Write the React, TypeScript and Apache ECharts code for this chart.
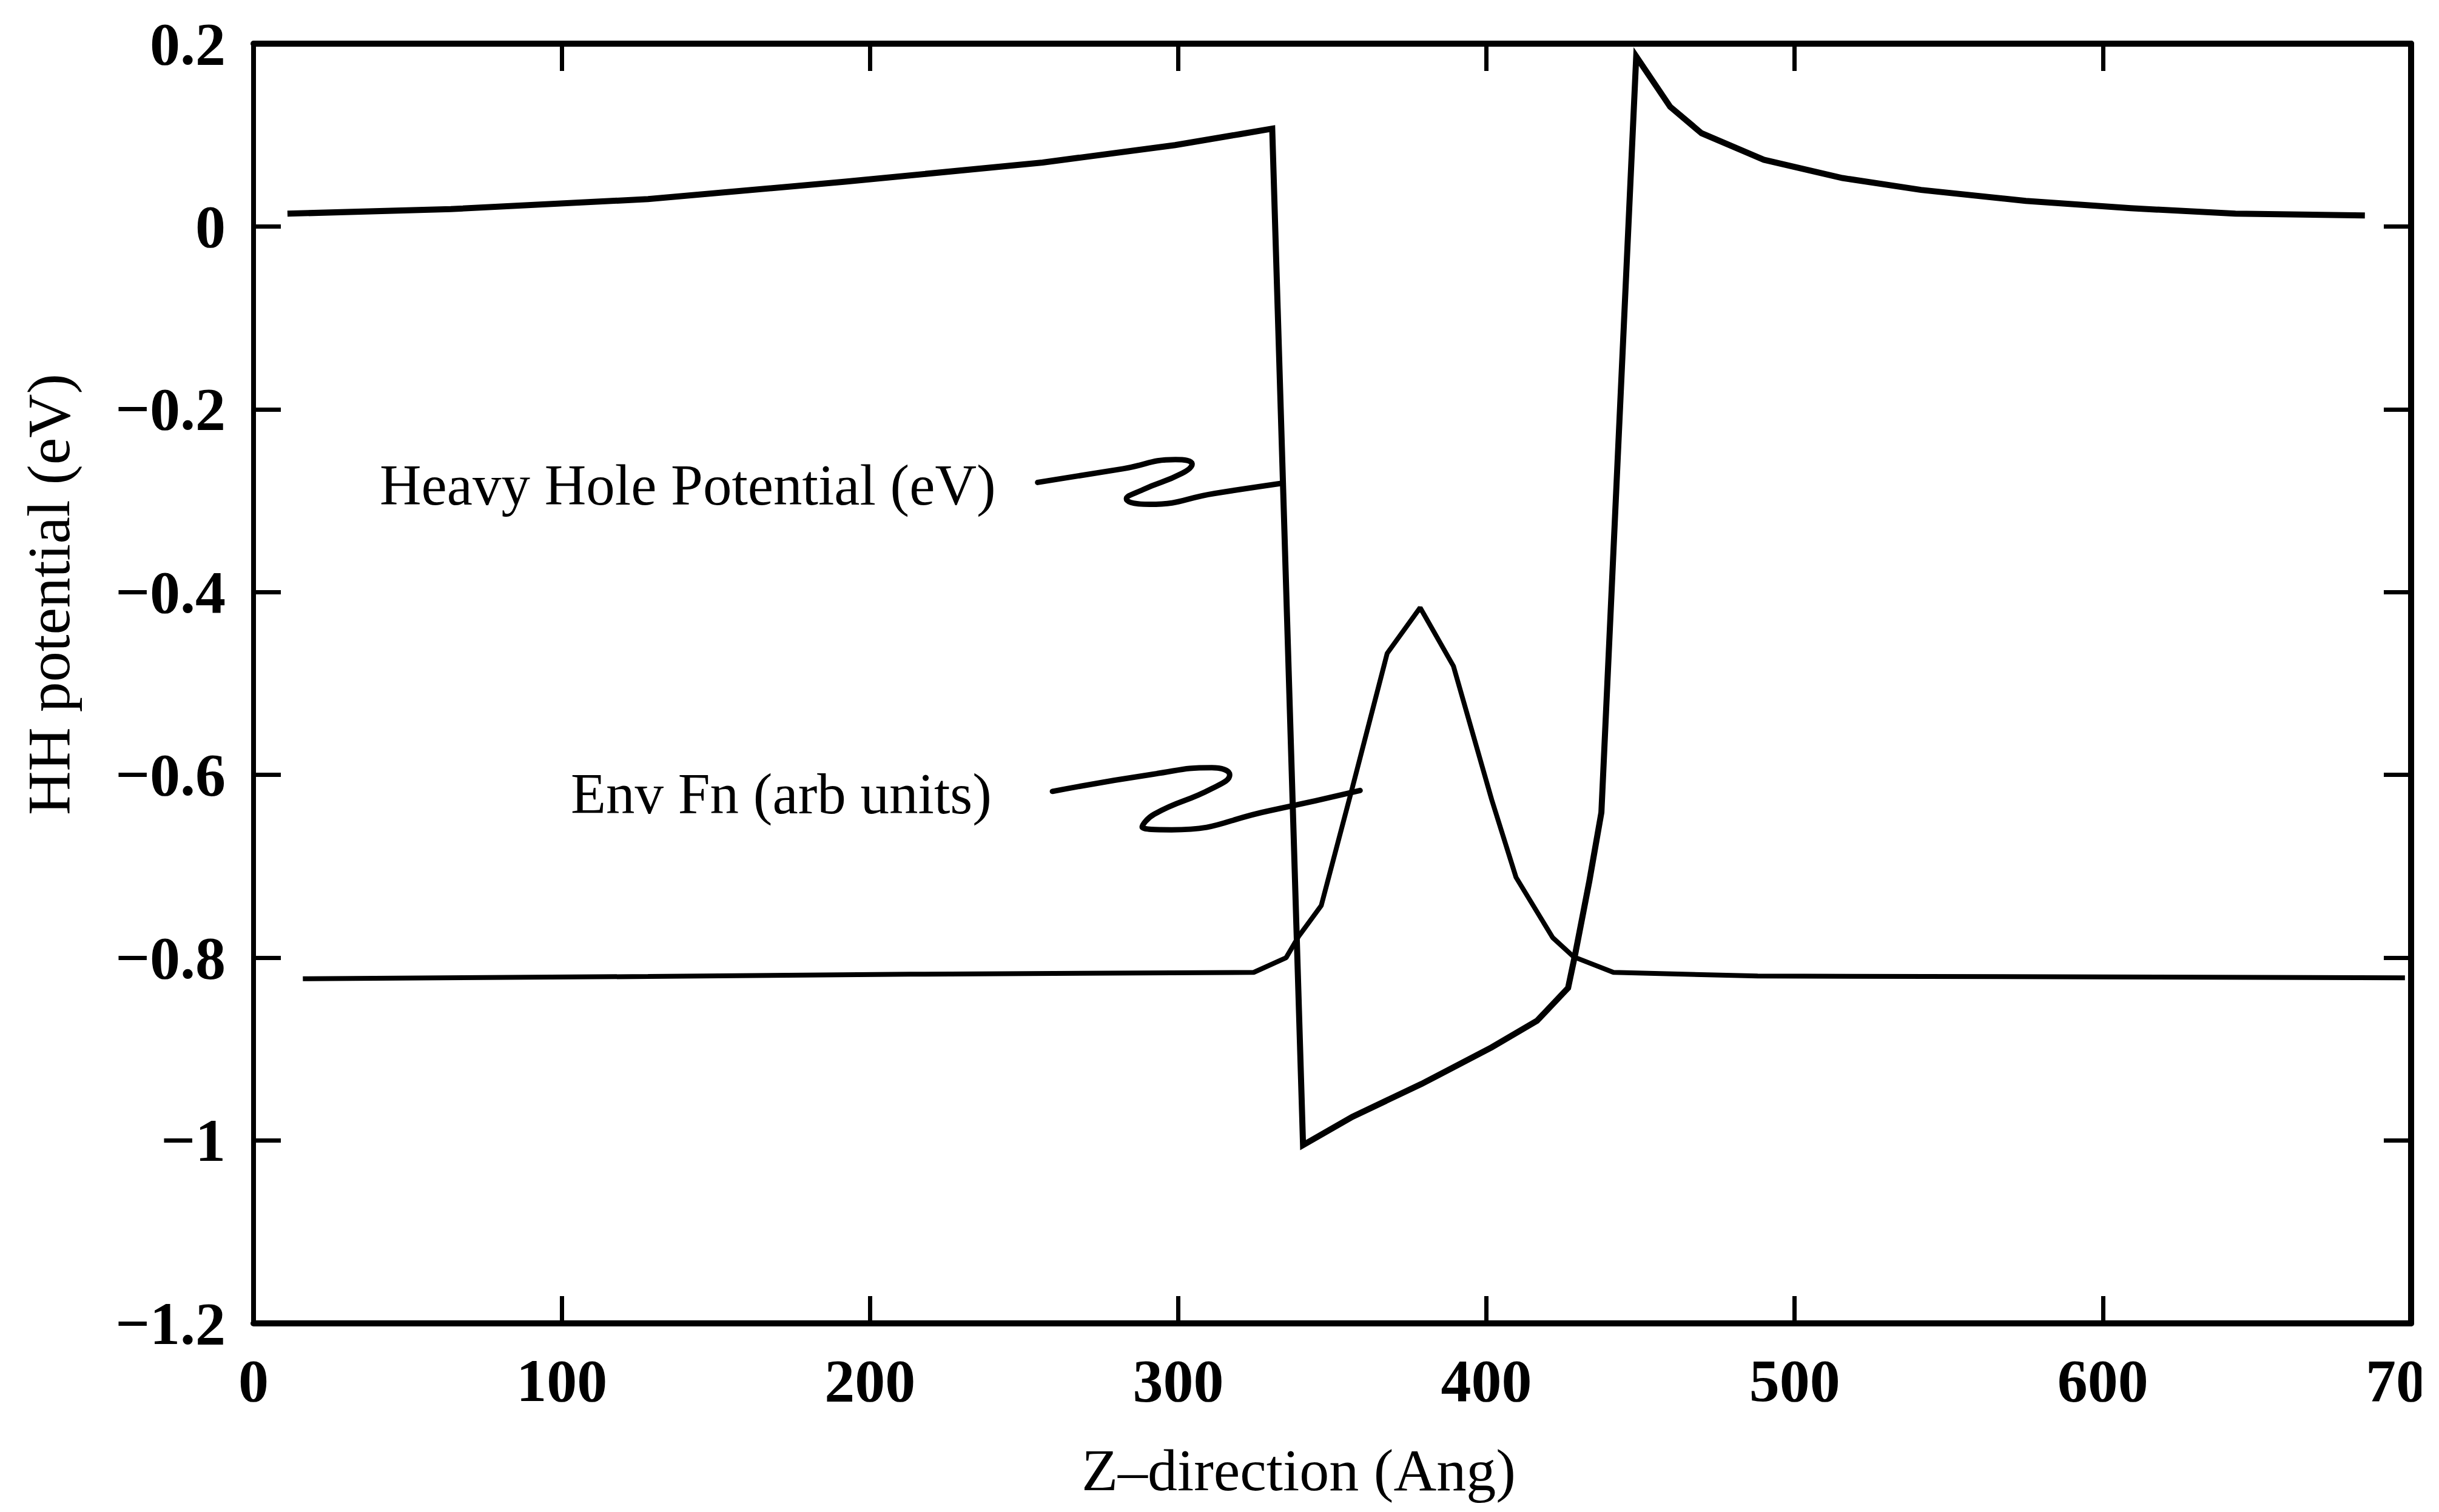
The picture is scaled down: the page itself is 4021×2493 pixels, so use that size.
import React, { useEffect, useRef } from "react";
import * as echarts from "echarts";

// Heavy hole potential (eV) vs Z (Ang)
const hhZ = [11, 64, 128, 192, 256, 299, 320, 330.5, 340.5, 356.5, 379, 401.7, 416.4, 426.5, 428.8, 433.4, 437.3, 448.6, 459.6, 469.8, 490, 515.5, 541, 575, 609, 643, 685];
const hhV = [0.014, 0.019, 0.030, 0.049, 0.070, 0.089, 0.101, 0.107, -1.005, -0.974, -0.938, -0.898, -0.869, -0.833, -0.796, -0.716, -0.641, 0.186, 0.131, 0.102, 0.073, 0.053, 0.040, 0.028, 0.020, 0.014, 0.012];

// Envelope function (arb units, offset)
const envZ = [16, 128, 213, 324.5, 335, 339, 346.4, 356.5, 367.8, 378.5, 389.3, 401.7, 409.6, 421.5, 428.3, 441.2, 488, 600, 698];
const envV = [-0.823, -0.8205, -0.818, -0.816, -0.800, -0.777, -0.743, -0.614, -0.467, -0.417, -0.481, -0.627, -0.712, -0.778, -0.799, -0.816, -0.820, -0.821, -0.822];

// Leader squiggles from the annotation labels to the curves
const hhLeaderZ = [254.4, 282.1, 299.1, 304.5, 301.3, 288.5, 283.2, 290.7, 311.9, 333.4];
const hhLeaderV = [-0.280, -0.265, -0.255, -0.260, -0.270, -0.288, -0.298, -0.304, -0.292, -0.281];
const envLeaderZ = [259.2, 292.2, 310.9, 316.7, 310.9, 292.2, 288.3, 297.8, 329.8, 359.0];
const envLeaderV = [-0.618, -0.599, -0.592, -0.600, -0.615, -0.643, -0.657, -0.660, -0.639, -0.617];

const xRange = [0, 700];
const xStep = 100;
const yRange = [-1.2, 0.2];
const yStep = 0.2;

const xTitle = "Z–direction (Ang)";
const yTitle = "HH potential (eV)";
const hhLabel = "Heavy Hole Potential (eV)";
const envLabel = "Env Fn (arb units)";

const pairs = (xs: number[], ys: number[]) => xs.map((x, i) => [x, ys[i]]);

const SERIF = '"Liberation Serif", "Times New Roman", serif';

export default function App() {
  const ref = useRef<HTMLDivElement>(null);
  useEffect(() => {
    if (!ref.current) return;
    document.body.style.margin = "0";
    const chart = echarts.init(ref.current, undefined, { renderer: "svg" });
    const axisLine = { show: true, onZero: false, lineStyle: { color: "#000", width: 10 } };
    const tick = { show: true, inside: true, length: 45, lineStyle: { color: "#000", width: 7 } };
    const fmtY = (v: number) => {
      const r = Math.round(v * 10) / 10;
      return r < 0 ? "\u2212" + String(Math.abs(r)) : String(r);
    };
    const labelFont = { fontFamily: SERIF, fontWeight: "bold" as const, fontSize: 100, color: "#000" };
    chart.setOption({
      animation: false,
      backgroundColor: "#fff",
      grid: { left: 418, top: 72, right: 17, bottom: 311, containLabel: false, outerBoundsMode: "none" },
      xAxis: [
        {
          type: "value", min: xRange[0], max: xRange[1], interval: xStep, position: "bottom",
          axisLine, axisTick: tick, splitLine: { show: false },
          axisLabel: { ...labelFont, margin: 44, formatter: (v: number) => String(Math.round(v)) },
        },
        {
          type: "value", min: xRange[0], max: xRange[1], interval: xStep, position: "top",
          axisLine, axisTick: tick, splitLine: { show: false }, axisLabel: { show: false },
        },
      ],
      yAxis: [
        {
          type: "value", min: yRange[0], max: yRange[1], interval: yStep, position: "left",
          axisLine: { ...axisLine, lineStyle: { color: "#000", width: 8 } }, axisTick: tick, splitLine: { show: false },
          axisLabel: { ...labelFont, margin: 46, formatter: fmtY },
        },
        {
          type: "value", min: yRange[0], max: yRange[1], interval: yStep, position: "right",
          axisLine, axisTick: tick, splitLine: { show: false }, axisLabel: { show: false },
        },
      ],
      series: [
        {
          type: "line", name: "HH", data: pairs(hhZ, hhV), showSymbol: false, symbol: "none",
          lineStyle: { color: "#000", width: 10, join: "miter" }, z: 3,
        },
        {
          type: "line", name: "Env", data: pairs(envZ, envV), showSymbol: false, symbol: "none",
          lineStyle: { color: "#000", width: 8 }, z: 3,
        },
        {
          type: "line", name: "hhLeader", data: pairs(hhLeaderZ, hhLeaderV), showSymbol: false, symbol: "none",
          smooth: 0.5, lineStyle: { color: "#000", width: 9, cap: "round" }, z: 3,
        },
        {
          type: "line", name: "envLeader", data: pairs(envLeaderZ, envLeaderV), showSymbol: false, symbol: "none",
          smooth: 0.5, lineStyle: { color: "#000", width: 9, cap: "round" }, z: 3,
        },
      ],
      graphic: [
        {
          type: "text", x: 626, y: 800,
          style: { text: hhLabel, fontFamily: SERIF, fontSize: 95, fill: "#000", align: "left", verticalAlign: "middle" },
        },
        {
          type: "text", x: 941, y: 1309,
          style: { text: envLabel, fontFamily: SERIF, fontSize: 95, fill: "#000", align: "left", verticalAlign: "middle" },
        },
        {
          type: "text", x: 80, y: 980, rotation: Math.PI / 2,
          style: { text: yTitle, fontFamily: SERIF, fontSize: 100, fill: "#000", align: "center", verticalAlign: "middle" },
        },
        {
          type: "text", x: 2141, y: 2424,
          style: { text: xTitle, fontFamily: SERIF, fontSize: 98, fill: "#000", align: "center", verticalAlign: "middle" },
        },
      ],
    });
    return () => chart.dispose();
  }, []);
  return (
    <div
      ref={ref}
      style={{ position: "absolute", left: 0, top: 0, width: 3992, height: 2493, background: "#fff" }}
    />
  );
}
